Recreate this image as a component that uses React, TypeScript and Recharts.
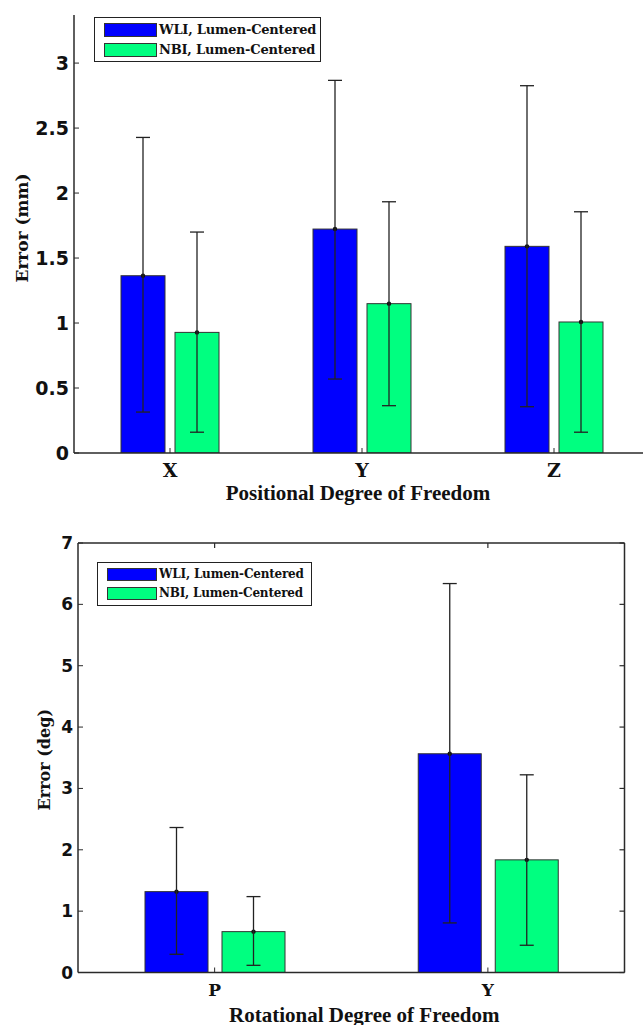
import React from 'react';
import { ComposedChart, Bar, XAxis, YAxis, ErrorBar, Legend } from 'recharts';

// ---------- data ----------
const seriesNames = ['WLI, Lumen-Centered', 'NBI, Lumen-Centered'];
const seriesColors = ['#0000FF', '#00FF80'];

const positionalCategories = ['X', 'Y', 'Z'];
const wliPositionalMean = [1.364, 1.723, 1.59];
const wliPositionalUpper = [2.428, 2.867, 2.826];
const wliPositionalLower = [0.315, 0.569, 0.356];
const nbiPositionalMean = [0.928, 1.149, 1.008];
const nbiPositionalUpper = [1.7, 1.933, 1.856];
const nbiPositionalLower = [0.16, 0.364, 0.16];
const positionalTicks = [0, 0.5, 1, 1.5, 2, 2.5, 3];

const rotationalCategories = ['P', 'Y'];
const wliRotationalMean = [1.318, 3.565];
const wliRotationalUpper = [2.363, 6.339];
const wliRotationalLower = [0.297, 0.808];
const nbiRotationalMean = [0.666, 1.836];
const nbiRotationalUpper = [1.237, 3.222];
const nbiRotationalLower = [0.117, 0.444];
const rotationalTicks = [0, 1, 2, 3, 4, 5, 6, 7];

const buildRows = (
  cats: string[],
  wm: number[], wu: number[], wl: number[],
  nm: number[], nu: number[], nl: number[]
) =>
  cats.map((c, i) => ({
    cat: c,
    wli: wm[i],
    wliErr: [wm[i] - wl[i], wu[i] - wm[i]],
    nbi: nm[i],
    nbiErr: [nm[i] - nl[i], nu[i] - nm[i]],
  }));

const positionalData = buildRows(
  positionalCategories,
  wliPositionalMean, wliPositionalUpper, wliPositionalLower,
  nbiPositionalMean, nbiPositionalUpper, nbiPositionalLower
);
const rotationalData = buildRows(
  rotationalCategories,
  wliRotationalMean, wliRotationalUpper, wliRotationalLower,
  nbiRotationalMean, nbiRotationalUpper, nbiRotationalLower
);

// ---------- helpers ----------
const AXIS = '#2a2a2a';
const blank = () => '';

const BarWithDot = (props: any) => {
  const { x, y, width, height, fill } = props;
  if (width == null || height == null) return null;
  return (
    <g>
      <rect x={x} y={y} width={width} height={height} fill={fill} stroke="#333" strokeWidth={1} />
      <circle cx={x + width / 2} cy={y} r={2.2} fill="#111" />
    </g>
  );
};

const makeLegend = (w: number, h: number, swW: number, swH: number, rowH: number, fs: number, padTop: number) => () => (
  <div
    style={{
      width: w,
      height: h,
      boxSizing: 'border-box',
      border: '1.5px solid #222',
      background: '#fff',
      padding: `${padTop}px 4px 0 9px`,
      fontFamily: "'DejaVu Serif', serif",
      fontWeight: 'bold',
      fontSize: fs,
      color: '#111',
      letterSpacing: -0.2,
    }}
  >
    {seriesNames.map((n, i) => (
      <div key={n} style={{ display: 'flex', alignItems: 'center', height: rowH, whiteSpace: 'nowrap' }}>
        <span
          style={{
            display: 'inline-block',
            width: swW,
            height: swH,
            background: seriesColors[i],
            border: '1px solid #333',
            boxSizing: 'border-box',
            marginRight: 2,
            flex: 'none',
          }}
        />
        <span>{n}</span>
      </div>
    ))}
  </div>
);

const xTitle = (text: string, dx: number, dy: number) => (p: any) => {
  const vb = p.viewBox;
  return (
    <text
      x={vb.x + vb.width / 2 + dx}
      y={vb.y + dy}
      textAnchor="middle"
      fontFamily="'Liberation Serif', 'Times New Roman', serif"
      fontWeight="bold"
      fontSize={21}
      fill="#111"
    >
      {text}
    </text>
  );
};

const yTitle = (text: string, cx: number, dy: number, fs: number) => (p: any) => {
  const vb = p.viewBox;
  const cy = vb.y + vb.height / 2 + dy;
  return (
    <text
      x={cx}
      y={cy}
      transform={`rotate(-90, ${cx}, ${cy})`}
      textAnchor="middle"
      dominantBaseline="central"
      fontFamily="'DejaVu Serif', serif"
      fontWeight="bold"
      fontSize={fs}
      fill="#111"
    >
      {text}
    </text>
  );
};

export default function App() {
  return (
    <div
      style={{
        position: 'absolute',
        left: 0,
        top: 0,
        width: 643,
        height: 1025,
        overflow: 'hidden',
        background: '#fff',
      }}
    >
      {/* Positional chart */}
      <div style={{ position: 'absolute', left: 0, top: 0 }}>
        <ComposedChart
          width={660}
          height={510}
          data={positionalData}
          margin={{ top: 15, right: 10, left: 0, bottom: 0 }}
          barGap={10}
        >
          <XAxis
            dataKey="cat"
            height={57}
            axisLine={{ stroke: AXIS, strokeWidth: 1.5 }}
            tickLine={{ stroke: AXIS }}
            tickSize={-5}
            tickMargin={16}
            tick={{ fontFamily: "'DejaVu Serif', serif", fontWeight: 'bold', fontSize: 19, fill: '#111' }}
            label={{ content: xTitle('Positional Degree of Freedom', -4, 47) }}
          />
          <XAxis
            xAxisId="top"
            dataKey="cat"
            orientation="top"
            height={0}
            axisLine={{ stroke: '#111', strokeWidth: 2 }}
            tickLine={false}
            tickFormatter={blank}
          />
          <YAxis
            yAxisId="left"
            width={74}
            type="number"
            domain={[0, 3.37]}
            ticks={positionalTicks}
            interval={0}
            allowDataOverflow
            axisLine={{ stroke: AXIS, strokeWidth: 1.5 }}
            tickLine={{ stroke: AXIS }}
            tickSize={-5}
            tickMargin={10}
            tickFormatter={(v: number) => String(v)}
            tick={{ fontFamily: "'DejaVu Sans', sans-serif", fontWeight: 'bold', fontSize: 19, fill: '#111' }}
            label={{ content: yTitle('Error (mm)', 21.5, -6, 17) }}
          />
          <Legend
            layout="horizontal"
            verticalAlign="middle"
            align="center"
            wrapperStyle={{ position: 'absolute', left: 94, top: 17, width: 'auto', height: 'auto' }}
            content={makeLegend(227, 45, 53, 14, 20, 13, 1.5)}
          />
          <Bar
            yAxisId="left"
            dataKey="wli"
            name={seriesNames[0]}
            fill={seriesColors[0]}
            barSize={44}
            shape={BarWithDot}
            isAnimationActive={false}
          >
            <ErrorBar dataKey="wliErr" width={7} stroke="#222" strokeWidth={1.3} direction="y" />
          </Bar>
          <Bar
            yAxisId="left"
            dataKey="nbi"
            name={seriesNames[1]}
            fill={seriesColors[1]}
            barSize={44}
            shape={BarWithDot}
            isAnimationActive={false}
          >
            <ErrorBar dataKey="nbiErr" width={7} stroke="#222" strokeWidth={1.3} direction="y" />
          </Bar>
        </ComposedChart>
      </div>

      {/* Rotational chart */}
      <div style={{ position: 'absolute', left: 0, top: 510 }}>
        <ComposedChart
          width={643}
          height={515}
          data={rotationalData}
          margin={{ top: 32, right: 17.5, left: 0, bottom: 0 }}
          barGap={14}
        >
          <XAxis
            dataKey="cat"
            height={52.5}
            axisLine={{ stroke: AXIS, strokeWidth: 1.5 }}
            tickLine={{ stroke: AXIS }}
            tickSize={-5}
            tickMargin={16}
            tick={{ fontFamily: "'DejaVu Serif', serif", fontWeight: 'bold', fontSize: 17, fill: '#111' }}
            label={{ content: xTitle('Rotational Degree of Freedom', 13, 49) }}
          />
          <XAxis
            xAxisId="top"
            dataKey="cat"
            orientation="top"
            height={1}
            interval={0}
            axisLine={{ stroke: AXIS, strokeWidth: 1.5 }}
            tickLine={{ stroke: AXIS, strokeWidth: 1.2 }}
            tickSize={-5}
            tickFormatter={blank}
          />
          <YAxis
            yAxisId="left"
            width={78}
            type="number"
            domain={[0, 7]}
            ticks={rotationalTicks}
            interval={0}
            allowDataOverflow
            axisLine={{ stroke: AXIS, strokeWidth: 1.5 }}
            tickLine={{ stroke: AXIS }}
            tickSize={-5}
            tickMargin={10}
            tick={{ fontFamily: "'DejaVu Sans', sans-serif", fontWeight: 'bold', fontSize: 17, fill: '#111' }}
            label={{ content: yTitle('Error (deg)', 44, 2, 16) }}
          />
          <YAxis
            yAxisId="right"
            orientation="right"
            width={1}
            type="number"
            domain={[0, 7]}
            ticks={rotationalTicks}
            interval={0}
            allowDataOverflow
            axisLine={{ stroke: AXIS, strokeWidth: 1.5 }}
            tickLine={{ stroke: AXIS, strokeWidth: 1.2 }}
            tickSize={-5}
            tickFormatter={blank}
          />
          <Legend
            layout="horizontal"
            verticalAlign="middle"
            align="center"
            wrapperStyle={{ position: 'absolute', left: 97, top: 52, width: 'auto', height: 'auto' }}
            content={makeLegend(215, 44, 50, 13, 19, 12, 1.5)}
          />
          <Bar
            yAxisId="left"
            dataKey="wli"
            name={seriesNames[0]}
            fill={seriesColors[0]}
            barSize={63}
            shape={BarWithDot}
            isAnimationActive={false}
          >
            <ErrorBar dataKey="wliErr" width={7} stroke="#222" strokeWidth={1.3} direction="y" />
          </Bar>
          <Bar
            yAxisId="left"
            dataKey="nbi"
            name={seriesNames[1]}
            fill={seriesColors[1]}
            barSize={63}
            shape={BarWithDot}
            isAnimationActive={false}
          >
            <ErrorBar dataKey="nbiErr" width={7} stroke="#222" strokeWidth={1.3} direction="y" />
          </Bar>
        </ComposedChart>
      </div>
    </div>
  );
}
